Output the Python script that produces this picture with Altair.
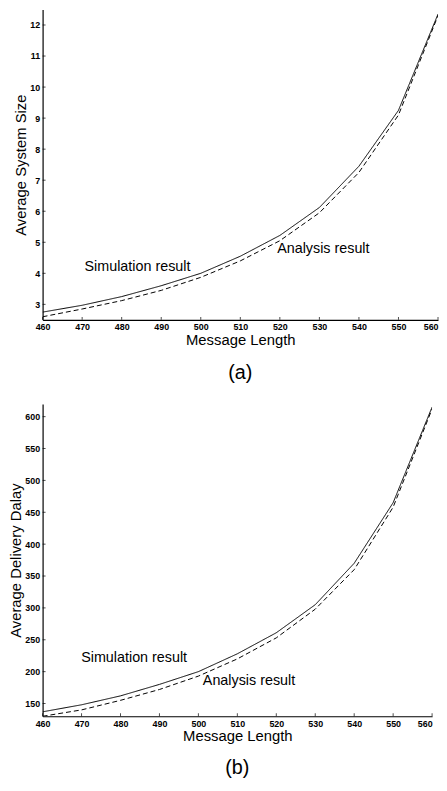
import altair as alt
import pandas as pd

msg_len = [460, 470, 480, 490, 500, 510, 520, 530, 540, 550, 560]

a_sim = [2.75, 2.97, 3.25, 3.60, 4.00, 4.55, 5.22, 6.12, 7.45, 9.25, 12.35]
a_ana = [2.60, 2.85, 3.12, 3.45, 3.87, 4.40, 5.05, 5.95, 7.25, 9.10, 12.30]

b_sim = [137, 148, 162, 180, 200, 228, 261, 305, 370, 465, 615]
b_ana = [130, 140, 155, 172, 193, 220, 253, 298, 360, 458, 612]

a_labels = ["Simulation result", "Analysis result"]
a_label_x = [484, 531]
a_label_y = [4.2, 4.77]
b_labels = ["Simulation result", "Analysis result"]
b_label_x = [483.5, 513]
b_label_y = [222, 186]

x_ticks = [460, 470, 480, 490, 500, 510, 520, 530, 540, 550, 560]
a_yticks = [3, 4, 5, 6, 7, 8, 9, 10, 11, 12]
b_yticks = [150, 200, 250, 300, 350, 400, 450, 500, 550, 600]

FONT = "Liberation Sans"


def panel(sim, ana, lx, ly, labels, yticks, ydom, ytitle, caption, w, h, cap_off):
    df = pd.DataFrame({
        "x": msg_len * 2,
        "y": sim + ana,
        "series": ["Simulation"] * len(sim) + ["Analysis"] * len(ana),
    })
    xs = alt.Scale(domain=[460, 560], nice=False, zero=False)
    ys = alt.Scale(domain=ydom, nice=False, zero=False)
    common = dict(grid=False, ticks=False, tickSize=0, labelOverlap=False,
                  labelFontSize=9, labelFontWeight="bold", titleFontSize=15,
                  titleFontWeight="normal", domainColor="black",
                  labelColor="black", titleColor="black", labelFont=FONT,
                  titleFont=FONT, labelFlush=False)
    xax = alt.Axis(values=x_ticks, title="Message Length", labelPadding=3,
                   titlePadding=1,
                   labelAlign={"expr": "datum.value === 560 ? 'right' : 'center'"},
                   **common)
    yax = alt.Axis(values=yticks, title=ytitle, labelPadding=3, titlePadding=1,
                   **common)
    lines = alt.Chart(df).mark_line(color="black", strokeWidth=1, clip=True).encode(
        x=alt.X("x:Q", scale=xs, axis=xax),
        y=alt.Y("y:Q", scale=ys, axis=yax),
        strokeDash=alt.StrokeDash("series:N",
                                  scale=alt.Scale(domain=["Simulation", "Analysis"],
                                                  range=[[1, 0], [5, 3]]),
                                  legend=None),
        detail="series:N",
    )
    tdf = pd.DataFrame({"label": labels, "x": lx, "y": ly})
    txt = alt.Chart(tdf).mark_text(font=FONT, fontSize=14.5, color="black").encode(
        x=alt.X("x:Q", scale=xs, axis=xax), y=alt.Y("y:Q", scale=ys, axis=yax),
        text="label:N")
    xt = alt.Chart(pd.DataFrame({"x": x_ticks})).mark_tick(
        color="black", size=3, thickness=1, orient="vertical").encode(
        x=alt.X("x:Q", scale=xs, axis=xax), y=alt.value(h - 1.5))
    yt = alt.Chart(pd.DataFrame({"y": yticks})).mark_tick(
        color="black", size=3, thickness=1, orient="horizontal").encode(
        y=alt.Y("y:Q", scale=ys, axis=yax), x=alt.value(1.5))
    return alt.layer(lines, txt, xt, yt).properties(
        width=w, height=h,
        title=alt.TitleParams(caption, orient="bottom", fontSize=20, font=FONT,
                              fontWeight="normal", offset=cap_off, anchor="middle"),
    )


pa = panel(a_sim, a_ana, a_label_x, a_label_y, a_labels, a_yticks, [2.5, 12.5],
           "Average System Size", "(a)", 400, 314, 16)
pb = panel(b_sim, b_ana, b_label_x, b_label_y, b_labels, b_yticks, [130, 620],
           "Average Delivery Dalay", "(b)", 394, 316, 14)

chart = alt.concat(pa, pb, columns=1, spacing=21, align="none").properties(
    padding={"top": -3, "left": 0, "right": 0, "bottom": 0}
).configure_view(stroke=None).configure_axis(domainWidth=1.2)

chart.save("out.html", embed_options={"renderer": "svg", "actions": False})
